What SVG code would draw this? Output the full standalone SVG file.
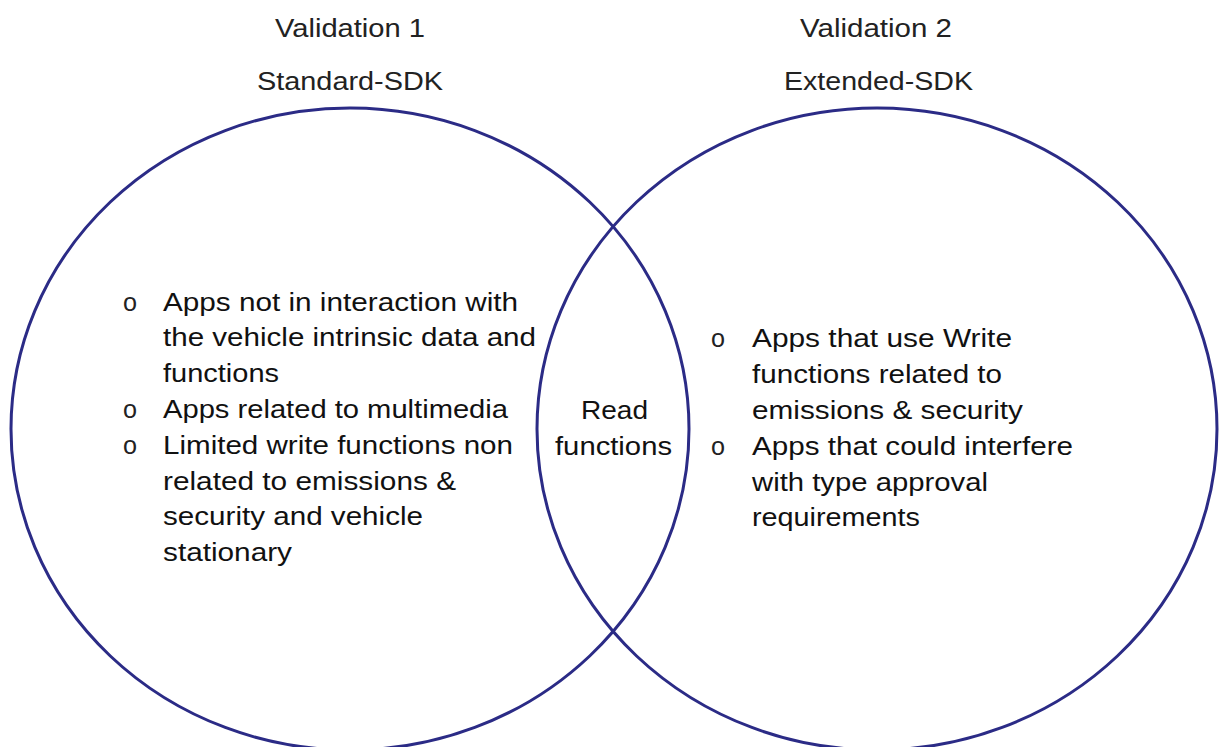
<svg xmlns="http://www.w3.org/2000/svg" width="1219" height="747" viewBox="0 0 1219 747">
<style>
.c{fill:none;stroke:#2b2b86;stroke-width:3}
.h{font-family:"Liberation Sans",Arial,sans-serif;font-size:25px;fill:#222}
.t{font-family:"Liberation Sans",Arial,sans-serif;font-size:25px;fill:#111}
.b{font-family:"Liberation Sans",Arial,sans-serif;font-size:25px;fill:#222}
</style>
<rect width="1219" height="747" fill="#fff"/>
<g id="connectors"></g>
<g id="set1">
<ellipse class="c" cx="350" cy="429" rx="339" ry="321"/>
<text class="h" x="275" y="37" textLength="150" lengthAdjust="spacingAndGlyphs">Validation 1</text>
<text class="h" x="257" y="90" textLength="186" lengthAdjust="spacingAndGlyphs">Standard-SDK</text>
<g class="t">
<text class="b" x="123" y="311" textLength="14" lengthAdjust="spacingAndGlyphs">o</text>
<text x="163" y="311" textLength="355" lengthAdjust="spacingAndGlyphs">Apps not in interaction with</text>
<text x="163" y="346" textLength="373" lengthAdjust="spacingAndGlyphs">the vehicle intrinsic data and</text>
<text x="163" y="382" textLength="116" lengthAdjust="spacingAndGlyphs">functions</text>
<text class="b" x="123" y="418" textLength="14" lengthAdjust="spacingAndGlyphs">o</text>
<text x="163" y="418" textLength="345" lengthAdjust="spacingAndGlyphs">Apps related to multimedia</text>
<text class="b" x="123" y="454" textLength="14" lengthAdjust="spacingAndGlyphs">o</text>
<text x="163" y="454" textLength="350" lengthAdjust="spacingAndGlyphs">Limited write functions non</text>
<text x="163" y="490" textLength="293" lengthAdjust="spacingAndGlyphs">related to emissions &amp;</text>
<text x="163" y="525" textLength="260" lengthAdjust="spacingAndGlyphs">security and vehicle</text>
<text x="163" y="561" textLength="129" lengthAdjust="spacingAndGlyphs">stationary</text>
</g>
</g>
<g id="set2">
<ellipse class="c" cx="877" cy="429" rx="340" ry="321"/>
<text class="h" x="800" y="37" textLength="152" lengthAdjust="spacingAndGlyphs">Validation 2</text>
<text class="h" x="784" y="90" textLength="189" lengthAdjust="spacingAndGlyphs">Extended-SDK</text>
<g class="t">
<text class="b" x="711" y="347" textLength="14" lengthAdjust="spacingAndGlyphs">o</text>
<text x="752" y="347" textLength="260" lengthAdjust="spacingAndGlyphs">Apps that use Write</text>
<text x="752" y="383" textLength="250" lengthAdjust="spacingAndGlyphs">functions related to</text>
<text x="752" y="419" textLength="271" lengthAdjust="spacingAndGlyphs">emissions &amp; security</text>
<text class="b" x="711" y="455" textLength="14" lengthAdjust="spacingAndGlyphs">o</text>
<text x="752" y="455" textLength="321" lengthAdjust="spacingAndGlyphs">Apps that could interfere</text>
<text x="752" y="491" textLength="236" lengthAdjust="spacingAndGlyphs">with type approval</text>
<text x="752" y="526" textLength="168" lengthAdjust="spacingAndGlyphs">requirements</text>
</g>
</g>
<g id="overlap" class="t">
<text x="581" y="419" textLength="67" lengthAdjust="spacingAndGlyphs">Read</text>
<text x="555" y="455" textLength="117" lengthAdjust="spacingAndGlyphs">functions</text>
</g>
</svg>
